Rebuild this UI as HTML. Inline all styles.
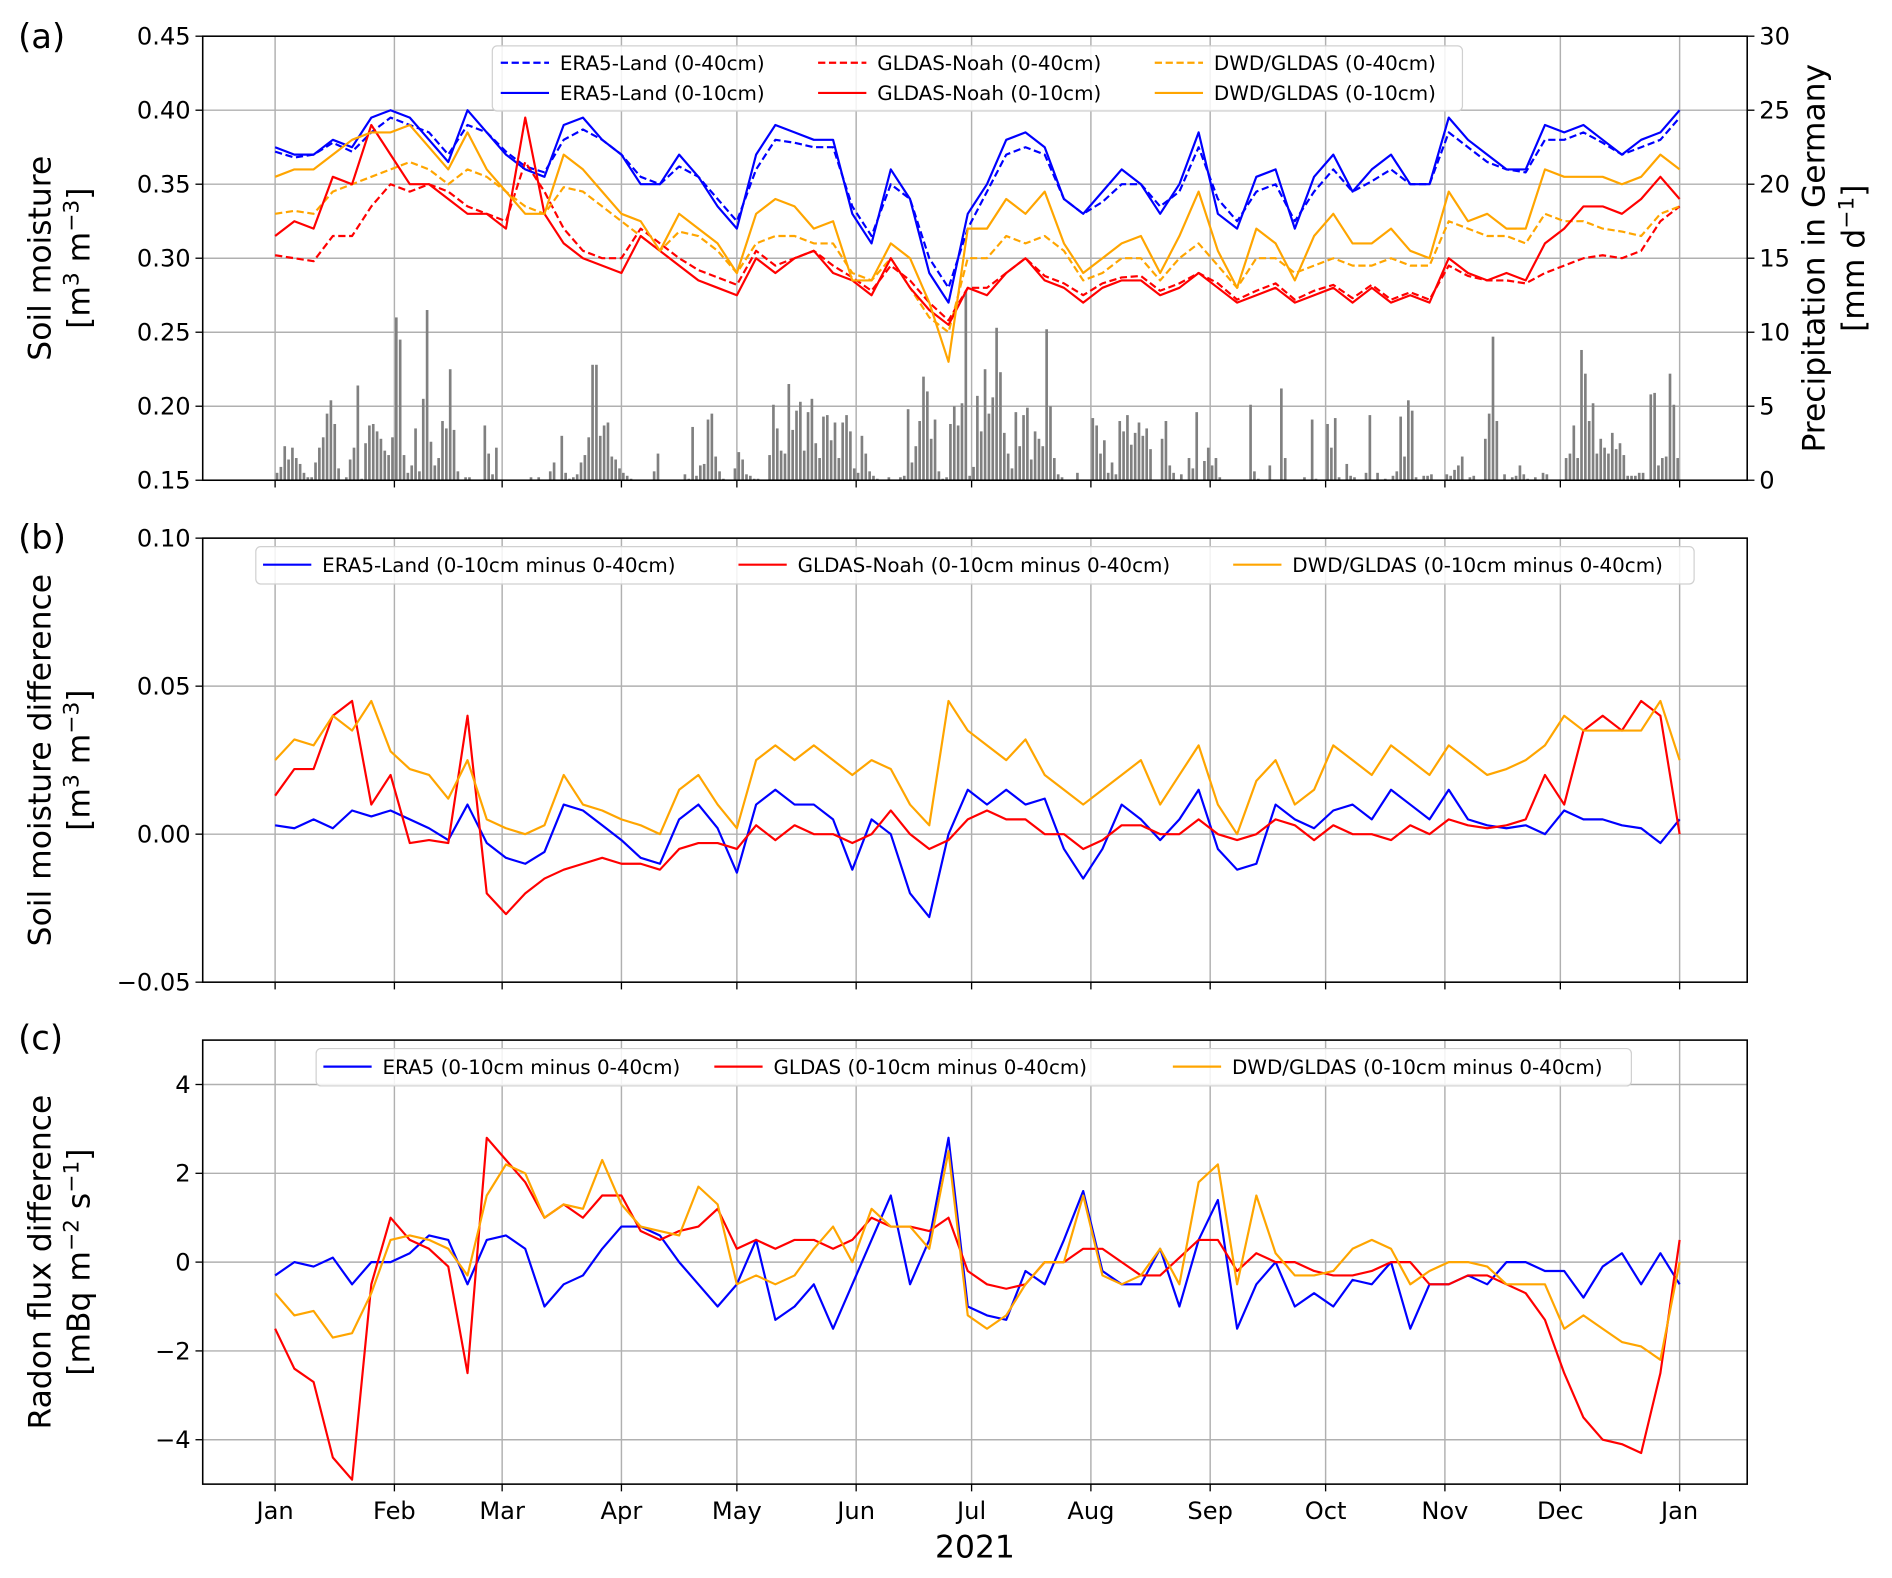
<!DOCTYPE html>
<html><head><meta charset="utf-8"><style>
html,body{margin:0;padding:0;background:#fff;}
svg{display:block;font-family:"DejaVu Sans","Liberation Sans",sans-serif;}
</style></head><body>
<svg id="chart" xmlns="http://www.w3.org/2000/svg" width="1892" height="1578" viewBox="0 0 1568 1307.8" preserveAspectRatio="none"></svg>
<script>
// ---------- DATA ----------
const monthLabels = ["Jan","Feb","Mar","Apr","May","Jun","Jul","Aug","Sep","Oct","Nov","Dec","Jan"];
const monthDays = [0,31,59,90,120,151,181,212,243,273,304,334,365];
const stepDays = 5;
const ticksA = ["0.15","0.20","0.25","0.30","0.35","0.40","0.45"];
const ticksAVals = [0.15,0.20,0.25,0.30,0.35,0.40,0.45];
const ticksPrecip = [0,5,10,15,20,25,30];
const ticksBVals = [-0.05,0.00,0.05,0.10];
const ticksB = ["\u22120.05","0.00","0.05","0.10"];
const ticksCVals = [-4,-2,0,2,4];
const ticksC = ["\u22124","\u22122","0","2","4"];

const era5Top = [.375,.37,.37,.38,.375,.395,.40,.395,.38,.365,.40,.385,.37,.36,.355,.39,.395,.38,.37,.35,.35,.37,.355,.335,.32,.37,.39,.385,.38,.38,.33,.31,.36,.34,.29,.27,.33,.35,.38,.385,.375,.34,.33,.345,.36,.35,.33,.35,.385,.33,.32,.355,.36,.32,.355,.37,.345,.36,.37,.35,.35,.395,.38,.37,.36,.36,.39,.385,.39,.38,.37,.38,.385,.40];
const era5Deep = [.372,.368,.37,.378,.372,.385,.395,.39,.385,.37,.39,.385,.372,.362,.358,.38,.387,.38,.37,.355,.35,.362,.355,.34,.325,.36,.38,.378,.375,.375,.335,.315,.35,.34,.30,.28,.32,.345,.37,.375,.37,.34,.33,.338,.35,.35,.335,.345,.375,.34,.325,.345,.35,.325,.345,.36,.345,.352,.36,.35,.35,.385,.375,.365,.36,.358,.38,.38,.385,.378,.37,.375,.38,.395];
const dwdTop = [.355,.36,.36,.37,.38,.385,.385,.39,.375,.36,.385,.36,.345,.33,.33,.37,.36,.345,.33,.325,.305,.33,.32,.31,.29,.33,.34,.335,.32,.325,.285,.285,.31,.30,.27,.23,.32,.32,.34,.33,.345,.31,.29,.30,.31,.315,.29,.315,.345,.305,.28,.32,.31,.285,.315,.33,.31,.31,.32,.305,.30,.345,.325,.33,.32,.32,.36,.355,.355,.355,.35,.355,.37,.36];
const dwdDeep = [.33,.332,.33,.345,.35,.355,.36,.365,.36,.35,.36,.355,.345,.335,.33,.348,.345,.335,.325,.315,.305,.318,.315,.305,.29,.31,.315,.315,.31,.31,.29,.285,.30,.28,.26,.25,.30,.30,.315,.31,.315,.305,.285,.29,.30,.30,.285,.30,.31,.295,.28,.30,.30,.29,.295,.30,.295,.295,.30,.295,.295,.325,.32,.315,.315,.31,.33,.325,.325,.32,.318,.315,.33,.335];
const gldasTop = [.315,.325,.32,.355,.35,.39,.37,.35,.35,.34,.33,.33,.32,.395,.33,.31,.30,.295,.29,.315,.305,.295,.285,.28,.275,.30,.29,.30,.305,.29,.285,.275,.30,.28,.265,.255,.28,.275,.29,.30,.285,.28,.27,.28,.285,.285,.275,.28,.29,.28,.27,.275,.28,.27,.275,.28,.27,.28,.27,.275,.27,.30,.29,.285,.29,.285,.31,.32,.335,.335,.33,.34,.355,.34];
const gldasDeep = [.302,.30,.298,.315,.315,.335,.35,.345,.35,.345,.335,.33,.325,.365,.345,.32,.305,.30,.30,.32,.31,.30,.292,.287,.282,.305,.295,.30,.305,.295,.287,.278,.295,.285,.27,.258,.28,.28,.29,.30,.288,.283,.275,.283,.287,.288,.278,.283,.29,.283,.272,.278,.283,.272,.278,.282,.273,.282,.272,.277,.272,.295,.288,.285,.285,.283,.29,.295,.30,.302,.30,.305,.325,.335];

const precip = [
0.5,0.9,2.3,1.4,2.2,1.5,1.1,0.5,0.2,0.2,1.2,2.2,2.9,4.5,5.4,3.8,0.8,0,0.2,1.4,2.2,6.4,0.1,2.5,3.7,3.8,3.3,2.8,2,1.7,2.9,
11,9.5,1.7,0.5,1,3.5,0.6,5.5,11.5,2.6,1,1.5,4,3.5,7.5,3.4,0.6,0,0.2,0.2,0,0,0,3.7,1.8,0.4,2.2,0,
0,0,0,0,0,0,0,0.2,0,0.2,0,0,0.6,1.2,0,3,0.5,0.1,0.2,0.4,1.2,1.7,2.9,7.8,7.8,3,3.7,3.9,1.6,1.4,0.8,
0.5,0.3,0.1,0,0,0,0,0,0.6,1.8,0,0,0,0,0,0,0.4,0.1,3.6,0.3,1,1.1,4.1,4.5,1.6,0.6,0.1,0,0,0.8,
1.9,1.4,0.4,0.3,0.1,0.1,0,0,1.7,5.1,3.5,2,1.8,6.5,3.4,4.7,5.3,2,4.6,5.5,2.5,1.5,4.3,4.4,2.7,3.9,1.5,3.9,4.4,3.3,0.8,
0.5,3,1.8,0.6,0.3,0.1,0,0,0.2,0,0,0.2,0.3,4.8,1.2,2.3,4,7,6,2.8,4.1,0.6,0.1,0.2,3.8,5,3.7,5.2,12.8,0.3,
0.9,5.7,3.3,7.5,4.5,5.6,10.3,7.3,3.2,1.8,0.8,4.6,2.3,4.4,4.9,1.4,3.3,2.8,2.3,10.2,5,1.5,0.4,0.2,0,0,0,0.5,0,0,0,
4.2,3.7,1.8,2.7,0.5,1.2,0.4,4,3.3,4.4,2.4,3.2,3.9,3,3.5,2.1,0,0,2.8,4,1,0.5,0,0.4,0,1.5,0.8,4.6,0,1.3,2.2,
1,1.5,0.2,0,0,0,0,0,0,0,5.1,0.6,0.1,0,0,1,0,0,6.2,1.5,0,0,0,0,0.2,0,4.1,0.1,0,0,
3.8,2.2,4.2,0.2,0,1.1,0.3,0.2,0,0,0.5,4.4,0,0.5,0,0.1,0,0.3,0.6,4.3,1.6,5.4,4.7,0.2,0,0.3,0.3,0.4,0,0,0,
0.4,0.3,0.7,1,1.6,0,0.2,0.3,0,0,2.8,4.5,9.7,4,0,0.4,0,0.2,0.3,1,0.4,0.1,0,0.2,0,0.5,0.4,0,0,0,
0,1.5,1.8,3.7,1.5,8.8,7.2,4,5.2,1.8,2.8,2.2,1.8,3.2,2.1,2.5,1.7,0.3,0.3,0.3,0.5,0.5,0,5.8,5.9,1,1.5,1.6,7.2,5.1,1.5];

const diffEra5 = [.003,.002,.005,.002,.008,.006,.008,.005,.002,-.002,.01,-.003,-.008,-.01,-.006,.01,.008,.003,-.002,-.008,-.01,.005,.01,.002,-.013,.01,.015,.01,.01,.005,-.012,.005,0,-.02,-.028,0,.015,.01,.015,.01,.012,-.005,-.015,-.005,.01,.005,-.002,.005,.015,-.005,-.012,-.01,.01,.005,.002,.008,.01,.005,.015,.01,.005,.015,.005,.003,.002,.003,0,.008,.005,.005,.003,.002,-.003,.005];
const diffGldas = [.013,.022,.022,.04,.045,.01,.02,-.003,-.002,-.003,.04,-.02,-.027,-.02,-.015,-.012,-.01,-.008,-.01,-.01,-.012,-.005,-.003,-.003,-.005,.003,-.002,.003,0,0,-.003,0,.008,0,-.005,-.002,.005,.008,.005,.005,0,0,-.005,-.002,.003,.003,0,0,.005,0,-.002,0,.005,.003,-.002,.003,0,0,-.002,.003,0,.005,.003,.002,.003,.005,.02,.01,.035,.04,.035,.045,.04,0];
const diffDwd = [.025,.032,.03,.04,.035,.045,.028,.022,.02,.012,.025,.005,.002,0,.003,.02,.01,.008,.005,.003,0,.015,.02,.01,.002,.025,.03,.025,.03,.025,.02,.025,.022,.01,.003,.045,.035,.03,.025,.032,.02,.015,.01,.015,.02,.025,.01,.02,.03,.01,0,.018,.025,.01,.015,.03,.025,.02,.03,.025,.02,.03,.025,.02,.022,.025,.03,.04,.035,.035,.035,.035,.045,.025];

const radonEra5 = [-.3,0,-.1,.1,-.5,0,0,.2,.6,.5,-.5,.5,.6,.3,-1,-.5,-.3,.3,.8,.8,.6,0,-.5,-1,-.5,.5,-1.3,-1,-.5,-1.5,-.5,.5,1.5,-.5,.5,2.8,-1,-1.2,-1.3,-.2,-.5,.5,1.6,-.2,-.5,-.5,.3,-1,.5,1.4,-1.5,-.5,0,-1,-.7,-1,-.4,-.5,0,-1.5,-.5,-.5,-.3,-.5,0,0,-.2,-.2,-.8,-.1,.2,-.5,.2,-.5];
const radonGldas = [-1.5,-2.4,-2.7,-4.4,-4.9,-.5,1,.5,.3,-.1,-2.5,2.8,2.3,1.8,1,1.3,1,1.5,1.5,.7,.5,.7,.8,1.2,.3,.5,.3,.5,.5,.3,.5,1,.8,.8,.7,1,-.2,-.5,-.6,-.5,0,0,.3,.3,0,-.3,-.3,.1,.5,.5,-.2,.2,0,0,-.2,-.3,-.3,-.2,0,0,-.5,-.5,-.3,-.3,-.5,-.7,-1.3,-2.5,-3.5,-4,-4.1,-4.3,-2.5,.5];
const radonDwd = [-.7,-1.2,-1.1,-1.7,-1.6,-.7,.5,.6,.5,.3,-.3,1.5,2.2,2,1,1.3,1.2,2.3,1.3,.8,.7,.6,1.7,1.3,-.5,-.3,-.5,-.3,.3,.8,0,1.2,.8,.8,.3,2.5,-1.2,-1.5,-1.2,-.5,0,0,1.5,-.3,-.5,-.3,.3,-.5,1.8,2.2,-.5,1.5,.2,-.3,-.3,-.2,.3,.5,.3,-.5,-.2,0,0,-.1,-.5,-.5,-.5,-1.5,-1.2,-1.5,-1.8,-1.9,-2.2,0];

// ---------- DRAW ----------
const NS = "http://www.w3.org/2000/svg";
const svg = document.getElementById('chart');
function mk(tag, attrs, parent){ const e=document.createElementNS(NS,tag); for(const k in attrs) e.setAttribute(k,attrs[k]); (parent||svg).appendChild(e); return e; }
const L=168, R=1448;
const X0=228, X1=1392;
function xDay(d){ return X0 + d*(X1-X0)/365; }
function idxDay(i){ return Math.min(i*stepDays,365); }

const panels = [
 {id:'a', top:30, bot:398, min:0.15, max:0.45, ticks:ticksAVals, labels:ticksA},
 {id:'b', top:446, bot:814, min:-0.05, max:0.10, ticks:ticksBVals, labels:ticksB},
 {id:'c', top:862, bot:1230, min:-5, max:5, ticks:ticksCVals, labels:ticksC}
];
function yScale(p){ return v => p.bot - (v-p.min)/(p.max-p.min)*(p.bot-p.top); }

panels.forEach(p=>{
  const g = mk('g',{});
  
  
  const ys = yScale(p);
  monthDays.forEach(d=>{
    const l=mk('line',{x1:xDay(d),x2:xDay(d),y1:p.top,y2:p.bot,stroke:'#b0b0b0','stroke-width':1.2},g);
    
    
    mk('line',{x1:xDay(d),x2:xDay(d),y1:p.bot,y2:p.bot+6,stroke:'#000','stroke-width':1.1},g);
  });
  p.ticks.forEach((v,i)=>{
    const y=ys(v);
    const l=mk('line',{x1:L,x2:R,y1:y,y2:y,stroke:'#b0b0b0','stroke-width':1.2},g);
    
    
    mk('line',{x1:L-6,x2:L,y1:y,y2:y,stroke:'#000','stroke-width':1.1},g);
    const t=mk('text',{x:L-10,y:y+7,'text-anchor':'end','font-size':20},g);
    t.textContent=p.labels[i];
    
    
  });
  p.g=g; p.ys=ys;
});

function line(p, data, color, dashed, name){
  const pts = data.map((v,i)=>xDay(idxDay(i))+','+p.ys(v)).join(' ');
  const e=mk('polyline',{points:pts,fill:'none',stroke:color,'stroke-width':1.8,'stroke-linejoin':'round'},p.g);
  if(dashed) e.setAttribute('stroke-dasharray','6,3');
  
  
}

const pa=panels[0];
const yP = v => pa.bot - v/30*(pa.bot-pa.top);
precip.forEach((v,i)=>{
  if(v<=0) return;
  const b=mk('rect',{x:xDay(i+0.5)-1.1,y:yP(v),width:2.2,height:pa.bot-yP(v),fill:'#808080'},pa.g);
  
  
});
ticksPrecip.forEach(v=>{
  const y=yP(v);
  mk('line',{x1:R,x2:R+6,y1:y,y2:y,stroke:'#000','stroke-width':1.1},pa.g);
  const t=mk('text',{x:R+10,y:y+7,'font-size':20},pa.g);
  t.textContent=String(v);
  
  
});

line(pa, era5Deep,'#0000ff',true,'era5-0-40-line');
line(pa, gldasDeep,'#ff0000',true,'gldas-0-40-line');
line(pa, dwdDeep,'#ffa500',true,'dwd-0-40-line');
line(pa, era5Top,'#0000ff',false,'era5-0-10-line');
line(pa, gldasTop,'#ff0000',false,'gldas-0-10-line');
line(pa, dwdTop,'#ffa500',false,'dwd-0-10-line');

const pb=panels[1];
line(pb, diffEra5,'#0000ff',false,'era5-diff-line');
line(pb, diffGldas,'#ff0000',false,'gldas-diff-line');
line(pb, diffDwd,'#ffa500',false,'dwd-diff-line');

const pc=panels[2];
line(pc, radonEra5,'#0000ff',false,'era5-radon-line');
line(pc, radonGldas,'#ff0000',false,'gldas-radon-line');
line(pc, radonDwd,'#ffa500',false,'dwd-radon-line');

panels.forEach(p=>{
  const f=mk('rect',{x:L,y:p.top,width:R-L,height:p.bot-p.top,fill:'none',stroke:'#000','stroke-width':1.3});
  
  
});

monthDays.forEach((d,i)=>{
  const t=mk('text',{x:xDay(d),y:1259,'text-anchor':'middle','font-size':20});
  t.textContent=monthLabels[i];
  
  
});

function legend(name,box,rows){
  const g=mk('g',{});
  
  
  mk('rect',{x:box[0],y:box[1],width:box[2],height:box[3],rx:4,fill:'#fff','fill-opacity':0.85,stroke:'#d0d0d0','stroke-width':1},g);
  rows.forEach(r=>{
    const l=mk('line',{x1:r.x,x2:r.x+40,y1:r.y,y2:r.y,stroke:r.c,'stroke-width':1.8},g);
    if(r.d) l.setAttribute('stroke-dasharray','6,3');
    const t=mk('text',{x:r.x+49,y:r.y+6,'font-size':16.5},g);
    t.textContent=r.t;
    
    
  });
}
legend('legend-a',[408,38,804,54],[
 {x:415,y:52,c:'#0000ff',d:true,t:'ERA5-Land (0-40cm)'},
 {x:415,y:77,c:'#0000ff',d:false,t:'ERA5-Land (0-10cm)'},
 {x:678,y:52,c:'#ff0000',d:true,t:'GLDAS-Noah (0-40cm)'},
 {x:678,y:77,c:'#ff0000',d:false,t:'GLDAS-Noah (0-10cm)'},
 {x:957,y:52,c:'#ffa500',d:true,t:'DWD/GLDAS (0-40cm)'},
 {x:957,y:77,c:'#ffa500',d:false,t:'DWD/GLDAS (0-10cm)'}]);
legend('legend-b',[212,453,1192,31],[
 {x:218,y:468,c:'#0000ff',t:'ERA5-Land (0-10cm minus 0-40cm)'},
 {x:612,y:468,c:'#ff0000',t:'GLDAS-Noah (0-10cm minus 0-40cm)'},
 {x:1022,y:468,c:'#ffa500',t:'DWD/GLDAS (0-10cm minus 0-40cm)'}]);
legend('legend-c',[262,869,1090,31],[
 {x:268,y:884,c:'#0000ff',t:'ERA5 (0-10cm minus 0-40cm)'},
 {x:592,y:884,c:'#ff0000',t:'GLDAS (0-10cm minus 0-40cm)'},
 {x:972,y:884,c:'#ffa500',t:'DWD/GLDAS (0-10cm minus 0-40cm)'}]);

function txt(name,s,x,y,size,rot,anchor){
  const t=mk('text',{x:x,y:y,'font-size':size,'text-anchor':anchor||'middle'});
  if(rot) t.setAttribute('transform','rotate(-90 '+x+' '+y+')');
  t.innerHTML=s;
  
  
}
txt('panel-label-a','(a)',15,40,28,false,'start');
txt('panel-label-b','(b)',15,455,28,false,'start');
txt('panel-label-c','(c)',15,870,28,false,'start');
txt('x-axis-title','2021',808,1291,26);
txt('y-axis-title-a','Soil moisture',42,214,26,true);
txt('y-axis-unit-a','[m<tspan dy="-9" font-size="18">3</tspan><tspan dy="9"> m</tspan><tspan dy="-9" font-size="18">\u22123</tspan><tspan dy="9">]</tspan>',74,214,26,true);
txt('y-axis-title-right','Precipitation in Germany',1512,214,26,true);
txt('y-axis-unit-right','[mm d<tspan dy="-9" font-size="18">\u22121</tspan><tspan dy="9">]</tspan>',1545,214,26,true);
txt('y-axis-title-b','Soil moisture difference',42,630,26,true);
txt('y-axis-unit-b','[m<tspan dy="-9" font-size="18">3</tspan><tspan dy="9"> m</tspan><tspan dy="-9" font-size="18">\u22123</tspan><tspan dy="9">]</tspan>',74,630,26,true);
txt('y-axis-title-c','Radon flux difference',42,1046,26,true);
txt('y-axis-unit-c','[mBq m<tspan dy="-9" font-size="18">\u22122</tspan><tspan dy="9"> s</tspan><tspan dy="-9" font-size="18">\u22121</tspan><tspan dy="9">]</tspan>',74,1046,26,true);
</script>
</body></html>
